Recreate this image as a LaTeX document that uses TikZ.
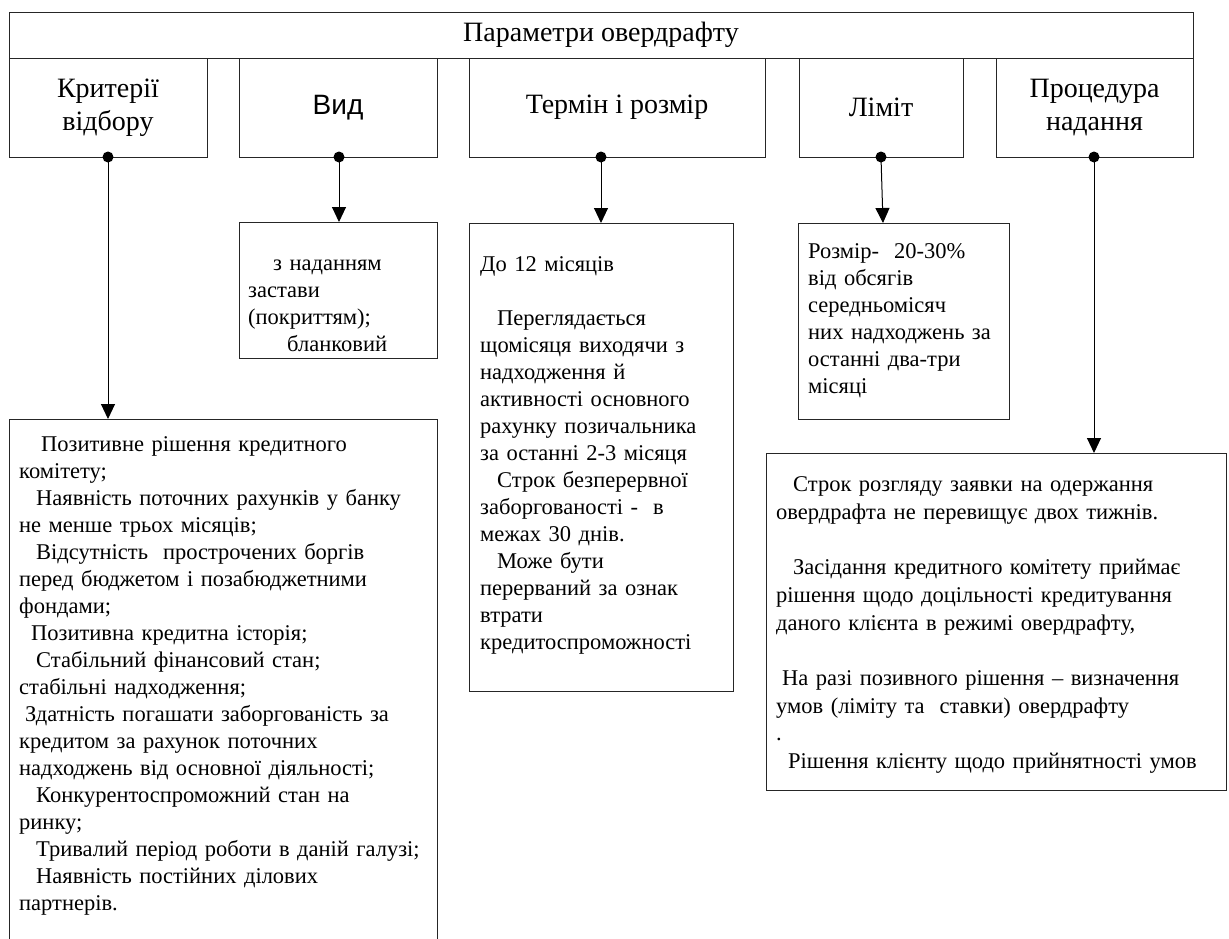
\documentclass[tikz,border=0pt]{standalone}
\usepackage{fontspec}
\setmainfont{Liberation Serif}
\newfontfamily\sansf{Liberation Sans}
\usetikzlibrary{arrows.meta,calc}
\begin{document}
\begin{tikzpicture}[x=1pt,y=-1pt,
  frame/.style={draw=black!85, line width=1pt, inner sep=0pt, outer sep=0pt, anchor=north west},
  hdr/.style={font=\fontsize{28}{33}\selectfont, align=center},
  body/.style={font=\fontsize{22.5}{27}\selectfont, align=left, anchor=north west, inner sep=0pt, text width=520pt},
  dot/.style={circle, fill=black, inner sep=0pt, minimum size=11pt},
  arr/.style={-{Triangle[length=15pt,width=14pt]}, line width=1pt},
  link/.style={line width=1pt}]
\useasboundingbox (0,0) rectangle (1229,938);
\clip (0,0) rectangle (1229,938);
\fill[white] (0,0) rectangle (1229,938);

% top
\node[frame, hdr, minimum width=1184pt, minimum height=46pt] (top) at (9,12) {Параметри овердрафту};
% second row
\node[frame, hdr, minimum width=198pt, minimum height=99pt] (kr) at (9,58) {Критерії\\відбору};
\node[frame, minimum width=198pt, minimum height=99pt, font=\sansf\fontsize{28}{33}\selectfont] (vd) at (239,58) {Вид};
\node[frame, hdr, minimum width=296pt, minimum height=99pt] (tr) at (469,58) {Термін і розмір};
\node[frame, hdr, minimum width=164pt, minimum height=99pt] (lm) at (799,58) {Ліміт};
\node[frame, hdr, minimum width=197pt, minimum height=99pt] (pr) at (996,58) {Процедура\\надання};

% lower boxes
\node[frame, minimum width=198pt, minimum height=136pt] (vl) at (239,222) {};
\node[frame, minimum width=264pt, minimum height=468pt] (tl) at (469,223) {};
\node[frame, minimum width=211pt, minimum height=196pt] (ll) at (798,223) {};
\node[frame, minimum width=428pt, minimum height=560pt] (kl) at (9,419) {};
\node[frame, minimum width=460pt, minimum height=337pt] (pl) at (766,453) {};

% dots
\node[dot] (d1) at (108,157) {};
\node[dot] (d2) at (339,157) {};
\node[dot] (d3) at (601,157) {};
\node[dot] (d4) at (881,157) {};
\node[dot] (d5) at (1094,157) {};
\coordinate (t4) at (883,223);

% connectors
\draw[arr] (d1.center) -- (d1 |- kl.north);
\draw[arr] (d2.center) -- (d2 |- vl.north);
\draw[arr] (d3.center) -- (d3 |- tl.north);
\draw[arr] (d4.center) -- (t4);
\draw[arr] (d5.center) -- (d5 |- pl.north);

% texts
\node[body] (vt) at (248,251) {\strut\hspace*{25pt}з наданням\\
застави\\
(покриттям);\\
\hspace*{39pt}бланковий};

\node[body] (tt) at (480,252) {\strut До 12 місяців\\[27pt]
\hspace*{17pt}Переглядається\\
щомісяця виходячи з\\
надходження й\\
активності основного\\
рахунку позичальника\\
за останні 2-3 місяця\\
\hspace*{17pt}Строк безперервної\\
заборгованості -\ \ в\\
межах 30 днів.\\
\hspace*{17pt}Може бути\\
перерваний за ознак\\
втрати\\
кредитоспроможності};

\node[body] (lt) at (808,239) {\strut Розмір-\ \ 20-30\%\\
від обсягів\\
середньомісяч\\
них надходжень за\\
останні два-три\\
місяці};

\node[body] (kt) at (19,432) {\strut\hspace*{22pt}Позитивне рішення кредитного\\
комітету;\\
\hspace*{17pt}Наявність поточних рахунків у банку\\
не менше трьох місяців;\\
\hspace*{17pt}Відсутність\ \ прострочених боргів\\
перед бюджетом і позабюджетними\\
фондами;\\
\hspace*{12pt}Позитивна кредитна історія;\\
\hspace*{17pt}Стабільний фінансовий стан;\\
стабільні надходження;\\
\hspace*{6pt}Здатність погашати заборгованість за\\
кредитом за рахунок поточних\\
надходжень від основної діяльності;\\
\hspace*{17pt}Конкурентоспроможний стан на\\
ринку;\\
\hspace*{17pt}Тривалий період роботи в даній галузі;\\
\hspace*{17pt}Наявність постійних ділових\\
партнерів.};

\node[body, font=\fontsize{22.5}{27.7}\selectfont] (pt) at (776,472) {\strut\hspace*{17pt}Строк розгляду заявки на одержання\\
овердрафта не перевищує двох тижнів.\\[27.7pt]
\hspace*{17pt}Засідання кредитного комітету приймає\\
рішення щодо доцільності кредитування\\
даного клієнта в режимі овердрафту,\\[27.7pt]
\hspace*{6pt}На разі позивного рішення – визначення\\
умов (ліміту та\ \ ставки) овердрафту\\
.\\
\hspace*{12pt}Рішення клієнту щодо прийнятності умов};
\end{tikzpicture}
\end{document}
